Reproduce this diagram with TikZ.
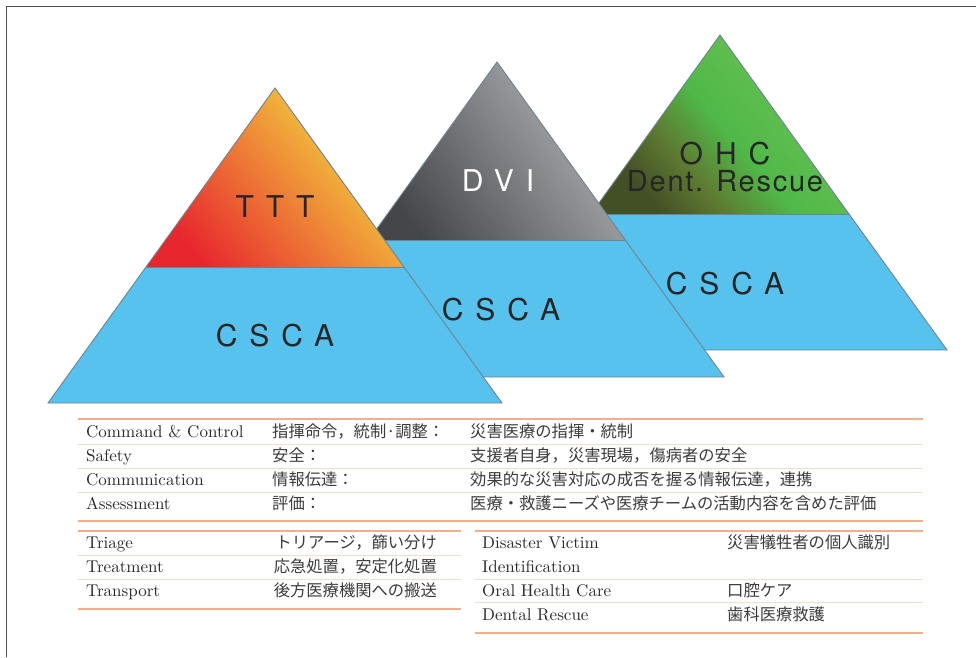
\documentclass[tikz,border=0pt]{standalone}
\usepackage{fontspec}
\newfontfamily\jp{Noto Sans CJK JP}
\newfontfamily\engfont{lmroman10-regular.otf}
\newfontfamily\hvsp[LetterSpace=40]{TeX Gyre Heros}
\newfontfamily\hvspb[LetterSpace=6]{TeX Gyre Heros}
\definecolor{blu}{HTML}{57C2EE}
\definecolor{edge}{HTML}{6F8391}
\definecolor{redA}{HTML}{E8262E}
\definecolor{oraA}{HTML}{F5963A}
\definecolor{yelA}{HTML}{F4E040}
\definecolor{gryD}{HTML}{454649}
\definecolor{gryM}{HTML}{818285}
\definecolor{gryL}{HTML}{B4B5B8}
\definecolor{grnD}{HTML}{434F25}
\definecolor{grnO}{HTML}{5E7A32}
\definecolor{grnM}{HTML}{50B848}
\definecolor{grnL}{HTML}{6BC455}
\definecolor{lineS}{HTML}{F5AE88}
\definecolor{lineL}{HTML}{FBDCCB}
\definecolor{txt}{HTML}{2A2A2A}
\definecolor{jtxt}{HTML}{3C3C3C}
\definecolor{frame}{HTML}{505050}
\pgfdeclarehorizontalshading{ohcshade}{100bp}{color(0bp)=(grnD); color(27bp)=(grnD); color(38bp)=(grnO); color(50bp)=(grnM); color(75bp)=(grnL); color(100bp)=(grnL)}
\tikzset{
  outline/.style={draw=edge, line width=0.9pt, line join=miter},
  bigl/.style={font=\hvsp\fontsize{30}{34}\selectfont, text=black!85, anchor=base, inner sep=0pt},
  eng/.style={font=\engfont\fontsize{17}{20}\selectfont, text=txt, anchor=base west, inner sep=0pt},
  jpn/.style={font=\jp\fontsize{16.3}{20}\selectfont, text=jtxt, anchor=base west, inner sep=0pt},
  jpe/.style={font=\jp\fontsize{16.3}{20}\selectfont, text=jtxt, anchor=base east, inner sep=0pt},
  strongline/.style={draw=lineS, line width=1.3pt},
  lightline/.style={draw=lineL, line width=1pt}
}
\begin{document}
\begin{tikzpicture}[x=1pt,y=-1pt]
\useasboundingbox (0,0) rectangle (976,657);
\fill[white] (0,0) rectangle (976,657);
% frame
\draw[frame, line width=1.6pt] (6.5,657) -- (6.5,6.5) -- (976,6.5);

% ---- triangle 3 (OHC) ----
\coordinate (a3) at (720,35);
\coordinate (bl3) at (493,350);
\coordinate (br3) at (947,350);
\coordinate (l3) at (591,214);
\coordinate (r3) at (849,214);
\fill[blu] (l3) -- (r3) -- (br3) -- (bl3) -- cycle;
\shade[shading=ohcshade, shading angle=40] (a3) -- (l3) -- (r3) -- cycle;
\draw[outline] (a3) -- (bl3) -- (br3) -- cycle;
\draw[edge, line width=0.6pt] (l3) -- (r3);
\node[bigl] (ohc) at (725,164) {OHC};
\node[font=\hvspb\fontsize{29}{34}\selectfont, text=black!85, anchor=base, inner sep=0pt] (dent) at (725,191) {Dent. Rescue};
\node[bigl] (csca3) at (725,294) {CSCA};

% ---- triangle 2 (DVI) ----
\coordinate (a2) at (497,62);
\coordinate (bl2) at (270,377);
\coordinate (br2) at (724,377);
\coordinate (l2) at (368.7,240);
\coordinate (r2) at (625.3,240);
\fill[blu] (l2) -- (r2) -- (br2) -- (bl2) -- cycle;
\shade[bottom color=gryD, middle color=gryM, top color=gryL, shading angle=-55] (a2) -- (l2) -- (r2) -- cycle;
\draw[outline] (a2) -- (bl2) -- (br2) -- cycle;
\draw[edge, line width=0.6pt] (l2) -- (r2);
\node[bigl, text=white] (dvi) at (498,191) {DVI};
\node[bigl] (csca2) at (501,320) {CSCA};

% ---- triangle 1 (TTT) ----
\coordinate (a1) at (275,88);
\coordinate (bl1) at (48,403);
\coordinate (br1) at (502,403);
\coordinate (l1) at (146,267);
\coordinate (r1) at (404,267);
\fill[blu] (l1) -- (r1) -- (br1) -- (bl1) -- cycle;
\shade[bottom color=redA, middle color=oraA, top color=yelA, shading angle=-50] (a1) -- (l1) -- (r1) -- cycle;
\draw[outline] (a1) -- (bl1) -- (br1) -- cycle;
\draw[edge, line width=0.6pt] (l1) -- (r1);
\node[bigl] (ttt) at (275,217) {TTT};
\node[bigl] (csca1) at (275,346) {CSCA};

% ---- upper table ----
\draw[strongline] (78,419) -- (923,419);
\draw[lightline] (78,444) -- (923,444);
\draw[lightline] (78,468) -- (923,468);
\draw[lightline] (78,492) -- (923,492);
\draw[strongline] (78,521) -- (923,521);

\node[eng] (e1) at (86,437) {Command \& Control};
\node[jpn] (j1) at (272,437) {指揮命令，統制·調整：};
\node[jpn] (d1) at (470,437) {災害医療の指揮・統制};
\node[eng] (e2) at (86,461) {Safety};
\node[jpn] (j2) at (272,461) {安全：};
\node[jpn] (d2) at (470,461) {支援者自身，災害現場，傷病者の安全};
\node[eng] (e3) at (86,485) {Communication};
\node[jpn] (j3) at (272,485) {情報伝達：};
\node[jpn] (d3) at (470,485) {効果的な災害対応の成否を握る情報伝達，連携};
\node[eng] (e4) at (86,509) {Assessment};
\node[jpn] (j4) at (272,509) {評価：};
\node[jpn] (d4) at (470,509) {医療・救護ニーズや医療チームの活動内容を含めた評価};

% ---- lower left table ----
\draw[strongline] (78,531) -- (461,531);
\draw[lightline] (78,555) -- (461,555);
\draw[lightline] (78,579) -- (461,579);
\draw[strongline] (78,609) -- (461,609);
\node[eng] (t1) at (86,548) {Triage};
\node[jpe] (tj1) at (437,548) {トリアージ，篩い分け};
\node[eng] (t2) at (86,572) {Treatment};
\node[jpe] (tj2) at (437,572) {応急処置，安定化処置};
\node[eng] (t3) at (86,596) {Transport};
\node[jpe] (tj3) at (437,596) {後方医療機関への搬送};

% ---- lower right table ----
\draw[strongline] (475,531) -- (923,531);
\draw[lightline] (475,579) -- (923,579);
\draw[lightline] (475,602) -- (923,602);
\draw[strongline] (475,633) -- (923,633);
\node[eng] (r1n) at (482,548) {Disaster Victim};
\node[eng] (r1b) at (482,572) {Identification};
\node[jpn] (rj1) at (727,548) {災害犠牲者の個人識別};
\node[eng] (r2n) at (482,596) {Oral Health Care};
\node[jpn] (rj2) at (727,596) {口腔ケア};
\node[eng] (r3n) at (482,620) {Dental Rescue};
\node[jpn] (rj3) at (727,620) {歯科医療救護};
\end{tikzpicture}
\end{document}
